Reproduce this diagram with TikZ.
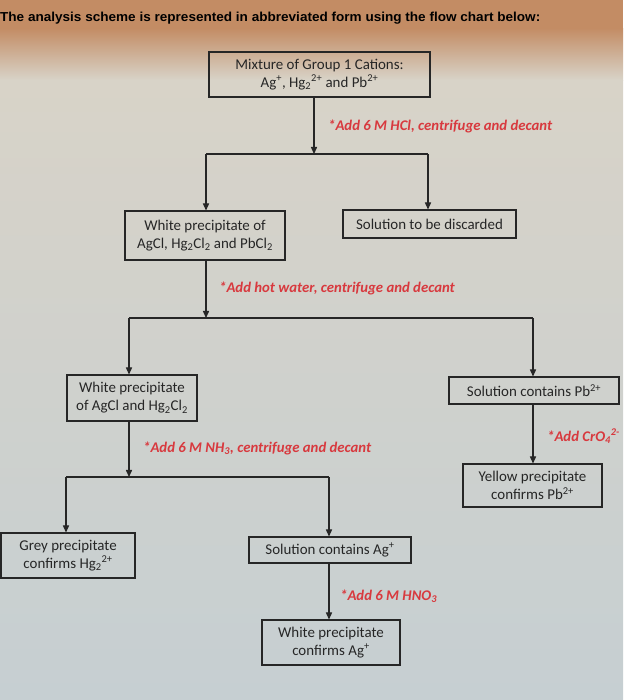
\documentclass[tikz,border=0pt]{standalone}
\usepackage{fontspec}
\usepackage{graphicx}
\setmainfont{Carlito}
\newfontfamily\titlefont{Liberation Sans}
\usetikzlibrary{arrows.meta}
\definecolor{bgtop}{HTML}{C38C64}
\definecolor{bgmid}{HTML}{D8D3C8}
\definecolor{bgmid2}{HTML}{D5D8D3}
\definecolor{bgbot}{HTML}{C6CFD2}
\definecolor{redtxt}{HTML}{D8393E}
\definecolor{ink}{HTML}{262626}
\tikzset{
  box/.style={draw=ink, line width=1.2pt, inner sep=0pt, align=center, text=ink,
    font=\fontsize{17}{20.5}\selectfont},
  note/.style={text=redtxt, anchor=west, inner sep=0pt,
    font=\fontsize{16.8}{19}\selectfont\bfseries\itshape},
  arr/.style={draw=ink, line width=1.2pt, -{Triangle[length=8pt,width=7pt]}},
  ln/.style={draw=ink, line width=1.2pt},
}
\begin{document}
\begin{tikzpicture}[x=0.04cm,y=-0.04cm]
\useasboundingbox (0,0) rectangle (623,700);
\fill[bgtop] (0,0) rectangle (623,28);
\shade[top color=bgtop, bottom color=bgmid] (0,28) rectangle (623,80);
\shade[top color=bgmid, middle color=bgmid2, bottom color=bgbot] (0,80) rectangle (623,700);
% title
\node[anchor=west, inner sep=0pt, text=black] (title) at (0,18)
  {\resizebox{21.6cm}{\height}{\titlefont\bfseries\fontsize{14.8}{17}\selectfont The analysis scheme is represented in abbreviated form using the flow chart below:}};
% boxes
\node[box, minimum width=221*0.04cm, minimum height=45*0.04cm] (b1) at (319.5,74.5)
  {Mixture of Group 1 Cations:\\Ag\textsuperscript{+}, Hg\textsubscript{2}\textsuperscript{2+} and Pb\textsuperscript{2+}};
\node[box, minimum width=160*0.04cm, minimum height=49*0.04cm] (b2) at (205,235.5)
  {White precipitate of\\AgCl, Hg\textsubscript{2}Cl\textsubscript{2} and PbCl\textsubscript{2}};
\node[box, minimum width=173*0.04cm, minimum height=28*0.04cm] (b3) at (429.5,224)
  {Solution to be discarded};
\node[box, minimum width=130*0.04cm, minimum height=46*0.04cm] (b4) at (132,398)
  {White precipitate\\of AgCl and Hg\textsubscript{2}Cl\textsubscript{2}};
\node[box, minimum width=170*0.04cm, minimum height=27*0.04cm] (b5) at (534,390.5)
  {Solution contains Pb\textsuperscript{2+}};
\node[box, minimum width=139*0.04cm, minimum height=43*0.04cm] (b6) at (532.5,485.5)
  {Yellow precipitate\\confirms Pb\textsuperscript{2+}};
\node[box, minimum width=134*0.04cm, minimum height=45*0.04cm] (b7) at (68,555.5)
  {Grey precipitate\\confirms Hg\textsubscript{2}\textsuperscript{2+}};
\node[box, minimum width=162*0.04cm, minimum height=26*0.04cm] (b8) at (330,550)
  {Solution contains Ag\textsuperscript{+}};
\node[box, minimum width=138*0.04cm, minimum height=45*0.04cm] (b9) at (331,642.5)
  {White precipitate\\confirms Ag\textsuperscript{+}};
% split points
\coordinate (s1) at (314,154);
\coordinate (s1l) at (206,154);
\coordinate (s1r) at (428,154);
\coordinate (s2) at (206,318);
\coordinate (s2l) at (129,318);
\coordinate (s2r) at (533,318);
\coordinate (s3) at (129,477);
\coordinate (s3l) at (66,477);
\coordinate (s3r) at (329,477);
% connectors
\draw[arr] (s1 |- b1.south) -- (s1);
\draw[ln] (s1l) -- (s1r);
\draw[arr] (s1l) -- (s1l |- b2.north);
\draw[arr] (s1r) -- (s1r |- b3.north);
\draw[arr] (s2 |- b2.south) -- (s2);
\draw[ln] (s2l) -- (s2r);
\draw[arr] (s2l) -- (s2l |- b4.north);
\draw[arr] (s2r) -- (s2r |- b5.north);
\draw[arr] (s2r |- b5.south) -- (s2r |- b6.north);
\draw[arr] (s3 |- b4.south) -- (s3);
\draw[ln] (s3l) -- (s3r);
\draw[arr] (s3l) -- (s3l |- b7.north);
\draw[arr] (s3r) -- (s3r |- b8.north);
\draw[arr] (s3r |- b8.south) -- (s3r |- b9.north);
% notes
\node[note] (n1) at (328,126) {*Add 6 M HCl, centrifuge and decant};
\node[note] (n2) at (219,288) {*Add hot water, centrifuge and decant};
\node[note] (n3) at (143,448) {*Add 6 M NH\textsubscript{3}, centrifuge and decant};
\node[note] (n4) at (547,436) {*Add CrO\textsubscript{4}\textsuperscript{2-}};
\node[note] (n5) at (340,596) {*Add 6 M HNO\textsubscript{3}};
\end{tikzpicture}
\end{document}
